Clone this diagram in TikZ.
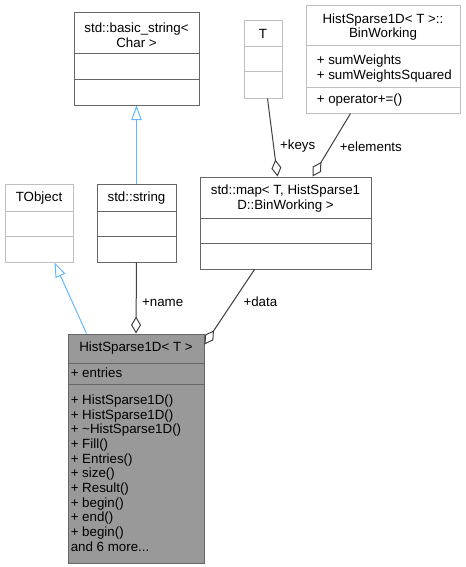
\documentclass[tikz,border=0pt]{standalone}
\usepackage{fontspec}
\setmainfont{Liberation Sans}
\usetikzlibrary{arrows.meta,calc,fit}

\definecolor{boxgray}{HTML}{666666}
\definecolor{palegray}{HTML}{BFBFBF}
\definecolor{edgegray}{HTML}{404040}
\definecolor{inheritblue}{HTML}{63B8FF}
\definecolor{histfill}{HTML}{999999}

\tikzset{
  classbox/.style={draw=#1, fill=white, line width=0.75pt, inner sep=0pt},
  divider/.style={draw=#1, line width=0.75pt},
  members/.style={anchor=west, align=left, inner sep=0pt},
  classtitle/.style={align=center, inner sep=0pt},
  inherit/.style={draw=inheritblue, line width=0.75pt, -{Triangle[fill=white, length=11pt, width=8pt]}},
  aggr/.style={draw=edgegray, line width=0.75pt, {Diamond[fill=white, length=12.75pt, width=7.5pt]}-},
  edgelabel/.style={inner sep=1pt}
}

\begin{document}
\begin{tikzpicture}[x=0.75pt, y=-0.75pt, font=\fontsize{10}{11}\selectfont]
    \useasboundingbox (0,0) rectangle (465,567);

    % std::basic_string< Char >
    \node[classbox=boxgray, fit={(74,13) (199,105)}] (basic) {};
    \draw[divider=boxgray] (74,54) -- (199,54);
    \draw[divider=boxgray] (74,80) -- (199,80);
    \node[classtitle] (basic title) at (136.5,35.3) {std::basic\_string<\\Char >};

    % T
    \node[classbox=palegray, fit={(244,21) (282,98)}] (tparam) {};
    \draw[divider=palegray] (244,47) -- (282,47);
    \draw[divider=palegray] (244,72) -- (282,72);
    \node[classtitle] (tparam title) at (263,34.3) {T};

    % HistSparse1D< T >::BinWorking
    \node[classbox=palegray, fit={(306,6) (460,113)}] (binw) {};
    \draw[divider=palegray] (306,46) -- (460,46);
    \draw[divider=palegray] (306,87) -- (460,87);
    \node[classtitle] (binw title) at (383,27.2) {HistSparse1D< T >::\\BinWorking};
    \node[members] (binw attr) at (316.5,68.5) {+ sumWeights\\+ sumWeightsSquared};
    \node[members] (binw ops) at (316.5,100) {+ operator+=()};

    % TObject
    \node[classbox=palegray, fit={(5,184) (73,262)}] (tobject) {};
    \draw[divider=palegray] (5,211) -- (73,211);
    \draw[divider=palegray] (5,236) -- (73,236);
    \node[classtitle] (tobject title) at (39,198) {TObject};

    % std::string
    \node[classbox=boxgray, fit={(97,184) (176,262)}] (string) {};
    \draw[divider=boxgray] (97,211) -- (176,211);
    \draw[divider=boxgray] (97,236) -- (176,236);
    \node[classtitle] (string title) at (136.5,198) {std::string};

    % std::map
    \node[classbox=boxgray, fit={(200,177) (371,269)}] (map) {};
    \draw[divider=boxgray] (200,218) -- (371,218);
    \draw[divider=boxgray] (200,243) -- (371,243);
    \node[classtitle] (map title) at (285.5,198.3) {std::map< T, HistSparse1\\D::BinWorking >};

    % HistSparse1D< T >
    \node[classbox=boxgray, fill=histfill, fit={(68,334) (204,563)}] (hist) {};
    \draw[divider=boxgray] (68,363) -- (204,363);
    \draw[divider=boxgray] (68,384) -- (204,384);
    \node[classtitle] (hist title) at (136,348.3) {HistSparse1D< T >};
    \node[members] (hist attr) at (70.5,372.7) {+ entries};
    \node[members] (hist ops) at (70.5,473) {+ HistSparse1D()\\+ HistSparse1D()\\+ \textasciitilde HistSparse1D()\\+ Fill()\\+ Entries()\\+ size()\\+ Result()\\+ begin()\\+ end()\\+ begin()\\and 6 more...};

    % Vererbung
    \draw[inherit] ($(hist.north west)+(19,0)$) -- ($(tobject.south west)+(50,0)$);
    \draw[inherit] (string.north) -- (basic.south);

    % Aggregation
    \draw[aggr] (hist.north) -- (string.south) node[edgelabel, pos=0.43, right=3pt]{+name};
    \draw[aggr] ($(hist.north east)+(0,11)$) -- ($(map.south west)+(55,0)$) node[edgelabel, pos=0.57, right=6.5pt]{+data};
    \draw[aggr] ($(map.north west)+(78,0)$) -- ($(tparam.south west)+(24,0)$) node[edgelabel, pos=0.39, right=3.5pt]{+keys};
    \draw[aggr] ($(map.north west)+(113,0)$) -- ($(binw.south west)+(45,0)$) node[edgelabel, pos=0.48, right=5.5pt]{+elements};
\end{tikzpicture}
\end{document}
